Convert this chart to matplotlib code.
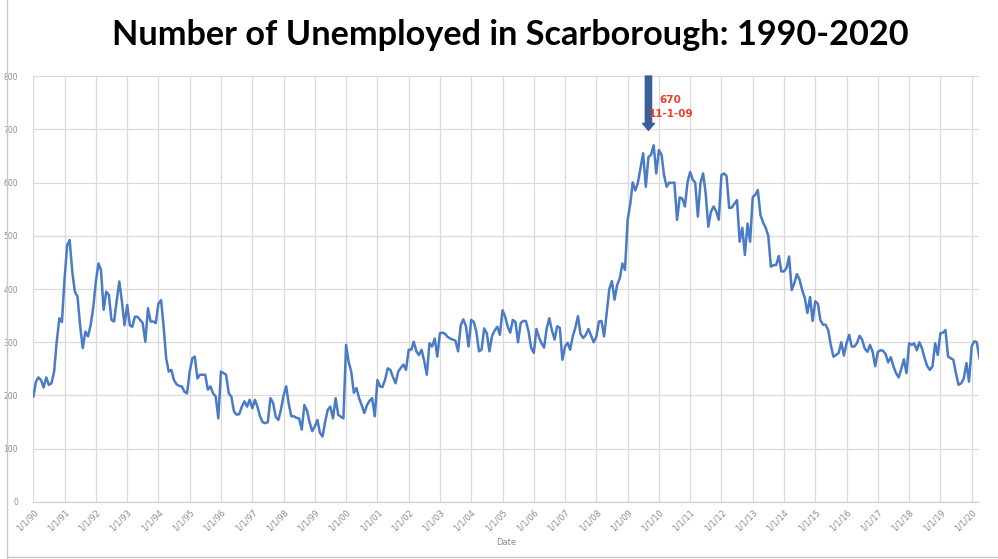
import numpy as np
import pandas as pd
import matplotlib
matplotlib.use("Agg")
import matplotlib.pyplot as plt
import matplotlib.dates as mdates
from matplotlib.lines import Line2D

# Monthly number of unemployed, Jan 1990 - Apr 2020
y1990 = [198, 226, 234, 229, 215, 234, 220, 223, 245, 301, 345, 338]
y1991 = [420, 483, 492, 432, 395, 386, 332, 289, 320, 311, 332, 364]
y1992 = [414, 448, 436, 361, 395, 389, 342, 339, 379, 414, 376, 332]
y1993 = [370, 332, 329, 348, 348, 342, 336, 301, 364, 339, 339, 336]
y1994 = [373, 379, 332, 270, 245, 248, 229, 221, 218, 217, 207, 204]
y1995 = [245, 270, 273, 232, 239, 239, 239, 211, 217, 204, 198, 157]
y1996 = [245, 242, 239, 204, 198, 170, 164, 165, 179, 189, 179, 192]
y1997 = [176, 192, 179, 161, 150, 148, 150, 195, 186, 160, 154, 173]
y1998 = [200, 217, 186, 161, 161, 158, 157, 136, 182, 172, 150, 133]
y1999 = [142, 154, 130, 123, 150, 173, 179, 157, 195, 164, 160, 157]
y2000 = [295, 262, 245, 205, 214, 195, 182, 167, 182, 190, 195, 161]
y2001 = [229, 217, 216, 230, 251, 248, 235, 223, 245, 252, 258, 248]
y2002 = [286, 286, 301, 283, 276, 286, 265, 239, 298, 292, 307, 273]
y2003 = [317, 318, 316, 310, 307, 305, 303, 283, 332, 343, 330, 292]
y2004 = [342, 338, 320, 283, 286, 326, 317, 283, 312, 322, 329, 314]
y2005 = [360, 348, 330, 318, 342, 338, 300, 336, 340, 340, 320, 290]
y2006 = [280, 325, 310, 298, 290, 326, 345, 322, 305, 330, 327, 267]
y2007 = [292, 299, 286, 311, 327, 349, 315, 308, 314, 325, 312, 300]
y2008 = [310, 339, 340, 311, 355, 400, 415, 380, 408, 420, 448, 436]
y2009 = [530, 560, 600, 585, 600, 628, 655, 592, 648, 652, 670, 617]
y2010 = [661, 652, 615, 592, 600, 599, 600, 530, 572, 570, 555, 600]
y2011 = [620, 605, 600, 536, 599, 617, 580, 517, 545, 555, 546, 530]
y2012 = [614, 617, 612, 552, 553, 560, 567, 489, 515, 464, 523, 489]
y2013 = [573, 577, 586, 539, 525, 515, 500, 442, 445, 445, 462, 433]
y2014 = [433, 440, 461, 398, 411, 428, 418, 398, 383, 355, 385, 340]
y2015 = [377, 372, 342, 333, 333, 323, 295, 273, 276, 280, 300, 275]
y2016 = [298, 314, 292, 292, 298, 312, 305, 288, 282, 295, 282, 255]
y2017 = [282, 285, 284, 278, 262, 272, 255, 242, 234, 250, 268, 242]
y2018 = [298, 295, 298, 285, 300, 288, 270, 255, 248, 255, 298, 276]
y2019 = [317, 318, 323, 273, 270, 267, 242, 220, 223, 232, 261, 226]
y2020 = [292, 302, 300, 270]

values = np.array(y1990 + y1991 + y1992 + y1993 + y1994 + y1995 + y1996 + y1997
                  + y1998 + y1999 + y2000 + y2001 + y2002 + y2003 + y2004 + y2005
                  + y2006 + y2007 + y2008 + y2009 + y2010 + y2011 + y2012 + y2013
                  + y2014 + y2015 + y2016 + y2017 + y2018 + y2019 + y2020)
dates = pd.date_range("1990-01-01", periods=len(values), freq="MS")

tick_years = list(range(1990, 2021))
tick_dates = [pd.Timestamp(y, 1, 1) for y in tick_years]
tick_labels = ["1/1/%02d" % (y % 100) for y in tick_years]

fig = plt.figure(figsize=(9.98, 5.59), dpi=100)
ax = fig.add_axes([0.0334, 0.102, 0.948, 0.762])

ax.plot(dates, values, color="#4A7BC4", linewidth=1.8)

ax.set_xlim(dates[0], dates[-1])
ax.set_ylim(0, 800)
ax.set_yticks(range(0, 801, 100))
ax.set_xticks(tick_dates)
ax.set_xticklabels(tick_labels, rotation=45, ha="right", rotation_mode="anchor",
                   fontsize=6, color="#8C8C8C")
ax.tick_params(axis="y", labelsize=5.5, labelcolor="#8C8C8C", length=0, pad=11)
ax.tick_params(axis="x", length=0, pad=4)
ax.grid(True, color="#DADADA", linewidth=0.9)
ax.set_axisbelow(True)
for s in ["top", "right", "left"]:
    ax.spines[s].set_visible(False)
ax.spines["bottom"].set_color("#D0D0D0")
ax.set_xlabel("Date", fontsize=6, color="#8C8C8C", labelpad=4)

# peak annotation
peak_i = int(np.argmax(values))
peak_date = dates[peak_i]
arrow_x = peak_date - pd.DateOffset(months=2)
ax.annotate("", xy=(arrow_x, values[peak_i] + 28), xytext=(arrow_x, 800),
            arrowprops=dict(width=4.5, headwidth=8.5, headlength=5,
                            color="#3A5E99", shrink=0),
            annotation_clip=False)
ax.annotate("%d\n%d-1-%02d" % (values[peak_i], peak_date.month, peak_date.year % 100),
            xy=(arrow_x, 800), xytext=(16, -14), textcoords="offset points",
            ha="center", va="top", fontsize=7.5, fontweight="bold",
            color="#F23A2A", linespacing=1.5, annotation_clip=False)

fig.suptitle("Number of Unemployed in Scarborough: 1990-2020", x=0.511, y=0.937,
             va="center", fontsize=24.7, fontweight="bold", family="Lato")

# chart frame
fig.add_artist(Line2D([7 / 998, 7 / 998], [1 / 559, 1], color="#C8C8C8", linewidth=1))
fig.add_artist(Line2D([7 / 998, 1], [2 / 559, 2 / 559], color="#C8C8C8", linewidth=1))

fig.savefig("out.png", dpi=100)
